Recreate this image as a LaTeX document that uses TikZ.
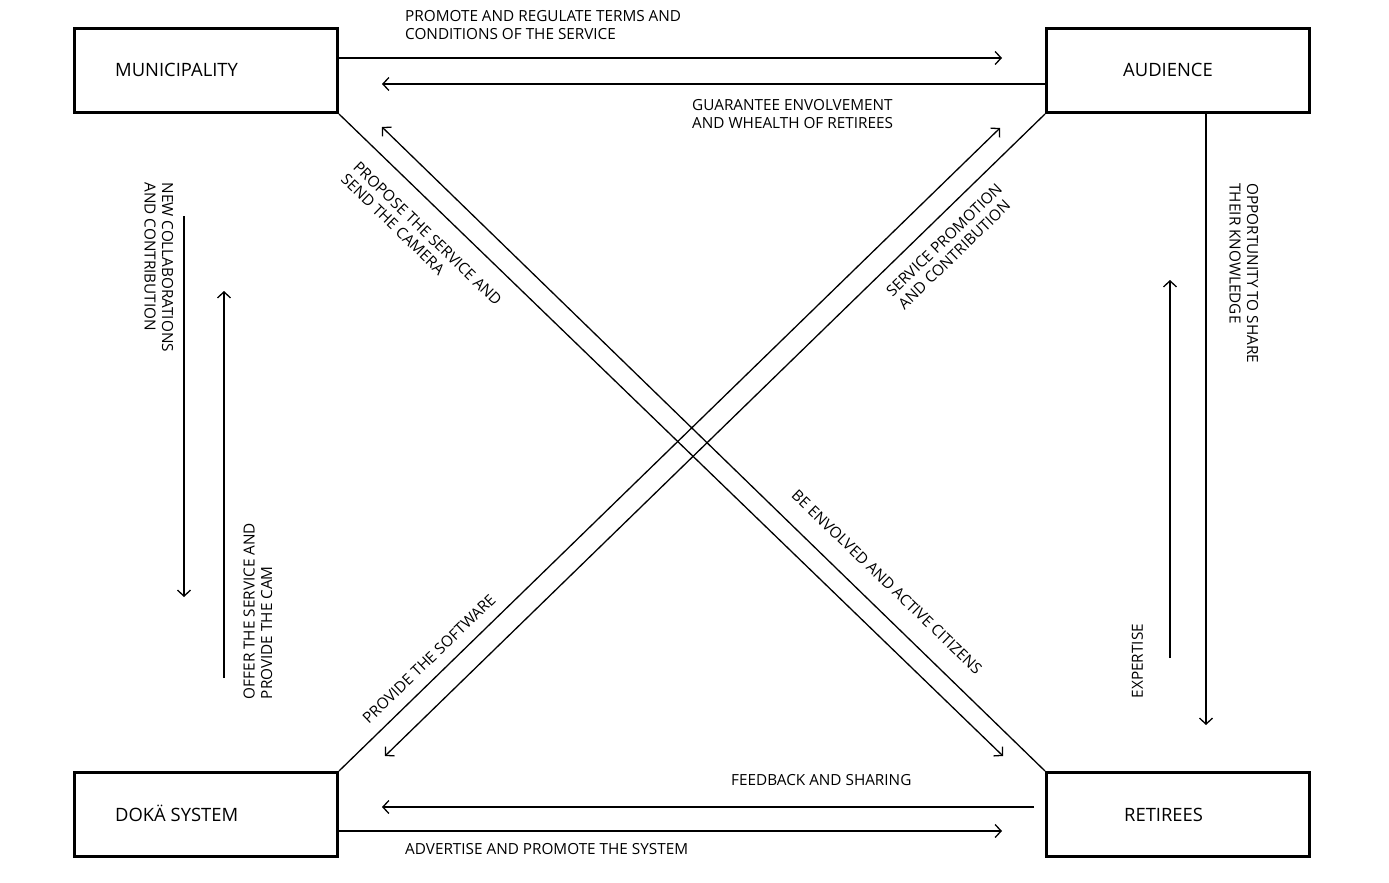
\documentclass[tikz,border=0pt]{standalone}
\usepackage{fontspec}
\setmainfont{Open Sans}
\usetikzlibrary{arrows.meta}
\begin{document}
\begin{tikzpicture}[x=1pt,y=-1pt,
  box/.style={draw, line width=3pt, minimum width=263pt, minimum height=84pt, inner sep=0pt},
  boxtext/.style={font=\fontsize{18.4}{21}\selectfont, anchor=west, inner sep=0pt, text height=13pt, text depth=0pt},
  lbl/.style={font=\fontsize{15.3}{18}\selectfont, align=left, inner sep=0pt},
  rlbl/.style={font=\fontsize{15.3}{17.5}\selectfont, align=left, inner sep=0pt},
  conn/.style={line width=1.3pt},
  arr/.style={conn, -{Straight Barb[length=6pt,width=13pt]}}]

\useasboundingbox (0,0) rectangle (1389,883);
\fill[white] (0,0) rectangle (1389,883);

% boxes
\node[box] (mun) at (206,70.5) {};
\node[box] (aud) at (1178,70.5) {};
\node[box] (dok) at (206,814.5) {};
\node[box] (ret) at (1178,814.5) {};

\node[boxtext] (munt) at ([xshift=42pt]mun.west) {MUNICIPALITY};
\node[boxtext] (audt) at ([xshift=78pt]aud.west) {AUDIENCE};
\node[boxtext] (dokt) at ([xshift=42pt]dok.west) {DOKÄ SYSTEM};
\node[boxtext] (rett) at ([xshift=79pt]ret.west) {RETIREES};

% free arrow ends
\coordinate (t1) at (1002,58);
\coordinate (t2) at (382,84);
\coordinate (t3) at (382,807);
\coordinate (t4) at (1002,831);
\coordinate (s5) at (184,216);
\coordinate (t5) at (184,597);
\coordinate (s6) at (224,678);
\coordinate (t6) at (224,291);
\coordinate (t7) at (1206,725);
\coordinate (s8) at (1170,658);
\coordinate (t8) at (1170,280);
\coordinate (t9) at (1003,756);
\coordinate (t10) at (382,127);
\coordinate (t11) at (385,756);
\coordinate (t12) at (1000,128);

% horizontal connectors
\draw[arr] ([yshift=12.5pt]mun.east) -- (t1);
\draw[arr] ([yshift=-13.5pt]aud.west) -- (t2);
\draw[arr] ([xshift=-11pt,yshift=7.5pt]ret.west) -- (t3);
\draw[arr] ([yshift=-16.5pt]dok.east) -- (t4);

% vertical connectors
\draw[arr] (s5) -- (t5);
\draw[arr] (s6) -- (t6);
\draw[arr] ([xshift=28pt]aud.south) -- (t7);
\draw[arr] (s8) -- (t8);

% diagonal connectors
\draw[arr] (mun.south east) -- (t9);
\draw[arr] (ret.north west) -- (t10);
\draw[arr] (aud.south west) -- (t11);
\draw[arr] (dok.north east) -- (t12);

% labels
\node[lbl, anchor=north west] (l1) at (405,10.5) {PROMOTE AND REGULATE TERMS AND\\CONDITIONS OF THE SERVICE};
\node[lbl, anchor=north west] (l2) at (692,99.5) {GUARANTEE ENVOLVEMENT\\AND WHEALTH OF RETIREES};
\node[lbl, anchor=north west] (l3) at (731,774.5) {FEEDBACK AND SHARING};
\node[lbl, anchor=north west] (l4) at (405,843.5) {ADVERTISE AND PROMOTE THE SYSTEM};

\node[rlbl, rotate=-90, anchor=north west] (l5) at (173.3,182.3) {NEW COLLABORATIONS\\AND CONTRIBUTION};
\node[rlbl, rotate=90, anchor=north west] (l6) at (243.3,699.3) {OFFER THE SERVICE AND\\PROVIDE THE CAM};
\node[rlbl, rotate=-90, anchor=north west] (l7) at (1258.3,183.3) {OPPORTUNITY TO SHARE\\THEIR KNOWLEDGE};
\node[rlbl, rotate=90, anchor=north west] (l8) at (1131.7,698.3) {EXPERTISE};

\node[rlbl, rotate=-44, anchor=north west] (l9) at (360,160) {PROPOSE THE SERVICE AND\\SEND THE CAMERA};
\node[rlbl, rotate=44, anchor=north west] (l10) at (884.5,289.5) {SERVICE PROMOTION\\AND CONTRIBUTION};
\node[rlbl, rotate=44] (l11) at (429,659) {PROVIDE THE SOFTWARE};
\node[rlbl, rotate=-44] (l12) at (887,582) {BE ENVOLVED AND ACTIVE CITIZENS};
\end{tikzpicture}
\end{document}
